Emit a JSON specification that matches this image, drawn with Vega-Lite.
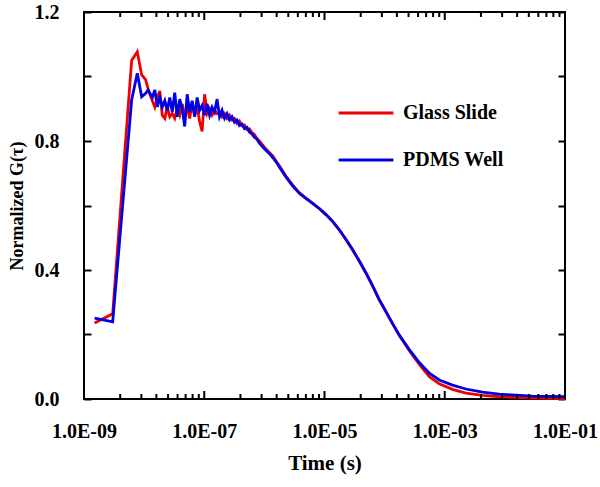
{
  "$schema": "https://vega.github.io/schema/vega-lite/v6.json",
  "width": 481,
  "height": 387,
  "autosize": "none",
  "padding": {"left": 84, "top": 12, "right": 35, "bottom": 88},
  "background": "white",
  "config": {
    "view": {"stroke": "black", "strokeWidth": 2},
    "axis": {
      "domain": false,
      "tickColor": "black",
      "tickWidth": 2,
      "grid": false,
      "labelFont": "Liberation Serif",
      "labelFontWeight": "bold",
      "labelFontSize": 20,
      "labelColor": "black",
      "labelOverlap": false,
      "labelFlush": false,
      "titleFont": "Liberation Serif",
      "titleFontWeight": "bold",
      "titleColor": "black"
    },
    "legend": {
      "labelFont": "Liberation Serif",
      "labelFontWeight": "bold",
      "labelFontSize": 20,
      "labelColor": "black"
    }
  },
  "datasets": {
    "curves": [
      {"t": 1.5e-9, "Glass Slide": 0.236, "PDMS Well": 0.251},
      {"t": 3.0e-9, "Glass Slide": 0.264, "PDMS Well": 0.239},
      {"t": 6.2e-9, "Glass Slide": 1.050, "PDMS Well": 0.927},
      {"t": 7.7e-9, "Glass Slide": 1.077, "PDMS Well": 1.010},
      {"t": 9.1e-9, "Glass Slide": 1.005, "PDMS Well": 0.937},
      {"t": 1.06e-8, "Glass Slide": 0.990, "PDMS Well": 0.948},
      {"t": 1.16e-8, "Glass Slide": 0.963, "PDMS Well": 0.958},
      {"t": 1.245e-8, "Glass Slide": 0.945, "PDMS Well": 0.948},
      {"t": 1.370e-8, "Glass Slide": 0.925, "PDMS Well": 0.935},
      {"t": 1.507e-8, "Glass Slide": 0.905, "PDMS Well": 0.958},
      {"t": 1.658e-8, "Glass Slide": 0.935, "PDMS Well": 0.906},
      {"t": 1.824e-8, "Glass Slide": 0.955, "PDMS Well": 0.935},
      {"t": 2.006e-8, "Glass Slide": 0.880, "PDMS Well": 0.905},
      {"t": 2.207e-8, "Glass Slide": 0.870, "PDMS Well": 0.925},
      {"t": 2.428e-8, "Glass Slide": 0.905, "PDMS Well": 0.895},
      {"t": 2.670e-8, "Glass Slide": 0.875, "PDMS Well": 0.935},
      {"t": 2.937e-8, "Glass Slide": 0.885, "PDMS Well": 0.890},
      {"t": 3.231e-8, "Glass Slide": 0.870, "PDMS Well": 0.950},
      {"t": 3.554e-8, "Glass Slide": 0.900, "PDMS Well": 0.875},
      {"t": 3.910e-8, "Glass Slide": 0.880, "PDMS Well": 0.930},
      {"t": 4.301e-8, "Glass Slide": 0.915, "PDMS Well": 0.900},
      {"t": 4.731e-8, "Glass Slide": 0.875, "PDMS Well": 0.845},
      {"t": 5.204e-8, "Glass Slide": 0.905, "PDMS Well": 0.945},
      {"t": 5.725e-8, "Glass Slide": 0.870, "PDMS Well": 0.890},
      {"t": 6.297e-8, "Glass Slide": 0.920, "PDMS Well": 0.925},
      {"t": 6.927e-8, "Glass Slide": 0.880, "PDMS Well": 0.875},
      {"t": 7.620e-8, "Glass Slide": 0.905, "PDMS Well": 0.935},
      {"t": 8.382e-8, "Glass Slide": 0.860, "PDMS Well": 0.895},
      {"t": 9.220e-8, "Glass Slide": 0.830, "PDMS Well": 0.910},
      {"t": 1.014e-7, "Glass Slide": 0.945, "PDMS Well": 0.880},
      {"t": 1.116e-7, "Glass Slide": 0.885, "PDMS Well": 0.915},
      {"t": 1.227e-7, "Glass Slide": 0.900, "PDMS Well": 0.880},
      {"t": 1.350e-7, "Glass Slide": 0.880, "PDMS Well": 0.905},
      {"t": 1.485e-7, "Glass Slide": 0.895, "PDMS Well": 0.890},
      {"t": 1.634e-7, "Glass Slide": 0.885, "PDMS Well": 0.930},
      {"t": 1.797e-7, "Glass Slide": 0.890, "PDMS Well": 0.875},
      {"t": 1.977e-7, "Glass Slide": 0.875, "PDMS Well": 0.895},
      {"t": 2.174e-7, "Glass Slide": 0.885, "PDMS Well": 0.870},
      {"t": 2.392e-7, "Glass Slide": 0.870, "PDMS Well": 0.885},
      {"t": 2.631e-7, "Glass Slide": 0.880, "PDMS Well": 0.865},
      {"t": 2.894e-7, "Glass Slide": 0.865, "PDMS Well": 0.875},
      {"t": 3.184e-7, "Glass Slide": 0.870, "PDMS Well": 0.858},
      {"t": 3.502e-7, "Glass Slide": 0.855, "PDMS Well": 0.865},
      {"t": 3.852e-7, "Glass Slide": 0.862, "PDMS Well": 0.848},
      {"t": 4.238e-7, "Glass Slide": 0.848, "PDMS Well": 0.852},
      {"t": 4.661e-7, "Glass Slide": 0.850, "PDMS Well": 0.838},
      {"t": 5.127e-7, "Glass Slide": 0.836, "PDMS Well": 0.842},
      {"t": 5.640e-7, "Glass Slide": 0.838, "PDMS Well": 0.828},
      {"t": 6.204e-7, "Glass Slide": 0.826, "PDMS Well": 0.822},
      {"t": 6.824e-7, "Glass Slide": 0.820, "PDMS Well": 0.812},
      {"t": 7.507e-7, "Glass Slide": 0.808, "PDMS Well": 0.806},
      {"t": 8.258e-7, "Glass Slide": 0.800, "PDMS Well": 0.793},
      {"t": 1.009e-6, "Glass Slide": 0.780, "PDMS Well": 0.775},
      {"t": 1.222e-6, "Glass Slide": 0.764, "PDMS Well": 0.760},
      {"t": 1.387e-6, "Glass Slide": 0.753, "PDMS Well": 0.748},
      {"t": 1.6e-6, "Glass Slide": 0.735, "PDMS Well": 0.733},
      {"t": 1.791e-6, "Glass Slide": 0.722, "PDMS Well": 0.718},
      {"t": 2.311e-6, "Glass Slide": 0.690, "PDMS Well": 0.687},
      {"t": 2.945e-6, "Glass Slide": 0.664, "PDMS Well": 0.661},
      {"t": 3.846e-6, "Glass Slide": 0.639, "PDMS Well": 0.637},
      {"t": 4.966e-6, "Glass Slide": 0.622, "PDMS Well": 0.621},
      {"t": 6.397e-6, "Glass Slide": 0.607, "PDMS Well": 0.606},
      {"t": 8.26e-6, "Glass Slide": 0.590, "PDMS Well": 0.590},
      {"t": 1.067e-5, "Glass Slide": 0.571, "PDMS Well": 0.571},
      {"t": 1.374e-5, "Glass Slide": 0.550, "PDMS Well": 0.550},
      {"t": 1.774e-5, "Glass Slide": 0.524, "PDMS Well": 0.524},
      {"t": 2.291e-5, "Glass Slide": 0.494, "PDMS Well": 0.494},
      {"t": 2.951e-5, "Glass Slide": 0.462, "PDMS Well": 0.462},
      {"t": 3.81e-5, "Glass Slide": 0.427, "PDMS Well": 0.427},
      {"t": 4.92e-5, "Glass Slide": 0.390, "PDMS Well": 0.390},
      {"t": 6.34e-5, "Glass Slide": 0.350, "PDMS Well": 0.350},
      {"t": 8.19e-5, "Glass Slide": 0.307, "PDMS Well": 0.307},
      {"t": 1.057e-4, "Glass Slide": 0.270, "PDMS Well": 0.270},
      {"t": 1.362e-4, "Glass Slide": 0.233, "PDMS Well": 0.233},
      {"t": 1.758e-4, "Glass Slide": 0.197, "PDMS Well": 0.198},
      {"t": 2.576e-4, "Glass Slide": 0.150, "PDMS Well": 0.153},
      {"t": 3.776e-4, "Glass Slide": 0.107, "PDMS Well": 0.113},
      {"t": 5.535e-4, "Glass Slide": 0.069, "PDMS Well": 0.080},
      {"t": 8.11e-4, "Glass Slide": 0.047, "PDMS Well": 0.059},
      {"t": 1.346e-3, "Glass Slide": 0.030, "PDMS Well": 0.043},
      {"t": 2.25e-3, "Glass Slide": 0.018, "PDMS Well": 0.031},
      {"t": 4.24e-3, "Glass Slide": 0.011, "PDMS Well": 0.021},
      {"t": 8.04e-3, "Glass Slide": 0.007, "PDMS Well": 0.015},
      {"t": 2.86e-2, "Glass Slide": 0.003, "PDMS Well": 0.009},
      {"t": 1.0e-1, "Glass Slide": 0.001, "PDMS Well": 0.007}
    ],
    "ticks": [
      {"t": 1e-9, "kind": "major"}, {"t": 1e-7, "kind": "major"}, {"t": 1e-5, "kind": "major"},
      {"t": 1e-3, "kind": "major"}, {"t": 1e-1, "kind": "major"},
      {"t": 4e-9, "kind": "minor"}, {"t": 9e-9, "kind": "minor"}, {"t": 1.6e-8, "kind": "minor"},
      {"t": 2.5e-8, "kind": "minor"}, {"t": 3.6e-8, "kind": "minor"}, {"t": 4.9e-8, "kind": "minor"},
      {"t": 6.4e-8, "kind": "minor"}, {"t": 8.1e-8, "kind": "minor"},
      {"t": 4e-7, "kind": "minor"}, {"t": 9e-7, "kind": "minor"}, {"t": 1.6e-6, "kind": "minor"},
      {"t": 2.5e-6, "kind": "minor"}, {"t": 3.6e-6, "kind": "minor"}, {"t": 4.9e-6, "kind": "minor"},
      {"t": 6.4e-6, "kind": "minor"}, {"t": 8.1e-6, "kind": "minor"},
      {"t": 4e-5, "kind": "minor"}, {"t": 9e-5, "kind": "minor"}, {"t": 1.6e-4, "kind": "minor"},
      {"t": 2.5e-4, "kind": "minor"}, {"t": 3.6e-4, "kind": "minor"}, {"t": 4.9e-4, "kind": "minor"},
      {"t": 6.4e-4, "kind": "minor"}, {"t": 8.1e-4, "kind": "minor"},
      {"t": 4e-3, "kind": "minor"}, {"t": 9e-3, "kind": "minor"}, {"t": 1.6e-2, "kind": "minor"},
      {"t": 2.5e-2, "kind": "minor"}, {"t": 3.6e-2, "kind": "minor"}, {"t": 4.9e-2, "kind": "minor"},
      {"t": 6.4e-2, "kind": "minor"}, {"t": 8.1e-2, "kind": "minor"}
    ]
  },
  "resolve": {"axis": {"x": "independent", "y": "independent"}},
  "layer": [
    {
      "data": {"name": "curves"},
      "transform": [{"fold": ["Glass Slide", "PDMS Well"], "as": ["series", "g"]}],
      "mark": {"type": "line", "strokeWidth": 2.8},
      "encoding": {
        "x": {
          "field": "t",
          "type": "quantitative",
          "scale": {"type": "log", "domain": [1e-9, 0.1], "nice": false},
          "axis": {
            "orient": "bottom",
            "title": "Time (s)",
            "titleFontSize": 21,
            "titlePadding": 11,
            "values": [1e-9, 1e-7, 1e-5, 1e-3, 1e-1],
            "labelExpr": "'1.0E-0' + (-round(log(datum.value)/LN10))",
            "ticks": false,
            "tickSize": 0,
            "labelPadding": 22
          }
        },
        "y": {
          "field": "g",
          "type": "quantitative",
          "scale": {"domain": [0, 1.2], "nice": false},
          "axis": {
            "orient": "left",
            "title": "Normalized G(τ)",
            "titleFontSize": 18,
            "titlePadding": 8,
            "values": [0, 0.2, 0.4, 0.6, 0.8, 1.0, 1.2],
            "labelExpr": "round(datum.value*10) % 4 == 0 ? format(datum.value, '.1f') : ''",
            "offset": -7,
            "tickSize": 7,
            "labelPadding": 25
          }
        },
        "color": {
          "field": "series",
          "type": "nominal",
          "scale": {"domain": ["Glass Slide", "PDMS Well"], "range": ["#f00000", "#0000e6"]},
          "legend": {
            "title": null,
            "orient": "none",
            "legendX": 253,
            "legendY": 72,
            "symbolType": "stroke",
            "symbolSize": 3000,
            "symbolStrokeWidth": 2.8,
            "labelOffset": 8,
            "rowPadding": 8,
            "padding": 0
          }
        }
      }
    },
    {
      "data": {"name": "curves"},
      "transform": [{"fold": ["Glass Slide", "PDMS Well"], "as": ["series", "g"]}],
      "mark": {"type": "line", "opacity": 0},
      "encoding": {
        "x": {
          "field": "t",
          "type": "quantitative",
          "scale": {"type": "log", "domain": [1e-9, 0.1], "nice": false},
          "axis": null
        },
        "y": {
          "field": "g",
          "type": "quantitative",
          "scale": {"domain": [0, 1.2], "nice": false},
          "axis": {
            "orient": "right",
            "title": null,
            "labels": false,
            "values": [0, 0.2, 0.4, 0.6, 0.8, 1.0, 1.2],
            "offset": -7,
            "tickSize": 7
          }
        },
        "detail": {"field": "series"}
      }
    },
    {
      "data": {"name": "ticks"},
      "transform": [{"filter": "datum.kind == 'major'"}],
      "mark": {"type": "tick", "orient": "vertical", "size": 16, "thickness": 2, "color": "black", "opacity": 1, "clip": true},
      "encoding": {
        "x": {
          "field": "t",
          "type": "quantitative",
          "scale": {"type": "log", "domain": [1e-9, 0.1], "nice": false},
          "axis": null
        },
        "y": {"datum": 0, "type": "quantitative", "scale": {"domain": [0, 1.2], "nice": false}, "axis": null}
      }
    },
    {
      "data": {"name": "ticks"},
      "transform": [{"filter": "datum.kind == 'major'"}],
      "mark": {"type": "tick", "orient": "vertical", "size": 16, "thickness": 2, "color": "black", "opacity": 1, "clip": true},
      "encoding": {
        "x": {
          "field": "t",
          "type": "quantitative",
          "scale": {"type": "log", "domain": [1e-9, 0.1], "nice": false},
          "axis": null
        },
        "y": {"datum": 1.2, "type": "quantitative", "scale": {"domain": [0, 1.2], "nice": false}, "axis": null}
      }
    },
    {
      "data": {"name": "ticks"},
      "transform": [{"filter": "datum.kind == 'minor'"}],
      "mark": {"type": "tick", "orient": "vertical", "size": 10, "thickness": 2, "color": "black", "opacity": 1, "clip": true},
      "encoding": {
        "x": {
          "field": "t",
          "type": "quantitative",
          "scale": {"type": "log", "domain": [1e-9, 0.1], "nice": false},
          "axis": null
        },
        "y": {"datum": 0, "type": "quantitative", "scale": {"domain": [0, 1.2], "nice": false}, "axis": null}
      }
    },
    {
      "data": {"name": "ticks"},
      "transform": [{"filter": "datum.kind == 'minor'"}],
      "mark": {"type": "tick", "orient": "vertical", "size": 10, "thickness": 2, "color": "black", "opacity": 1, "clip": true},
      "encoding": {
        "x": {
          "field": "t",
          "type": "quantitative",
          "scale": {"type": "log", "domain": [1e-9, 0.1], "nice": false},
          "axis": null
        },
        "y": {"datum": 1.2, "type": "quantitative", "scale": {"domain": [0, 1.2], "nice": false}, "axis": null}
      }
    }
  ]
}
